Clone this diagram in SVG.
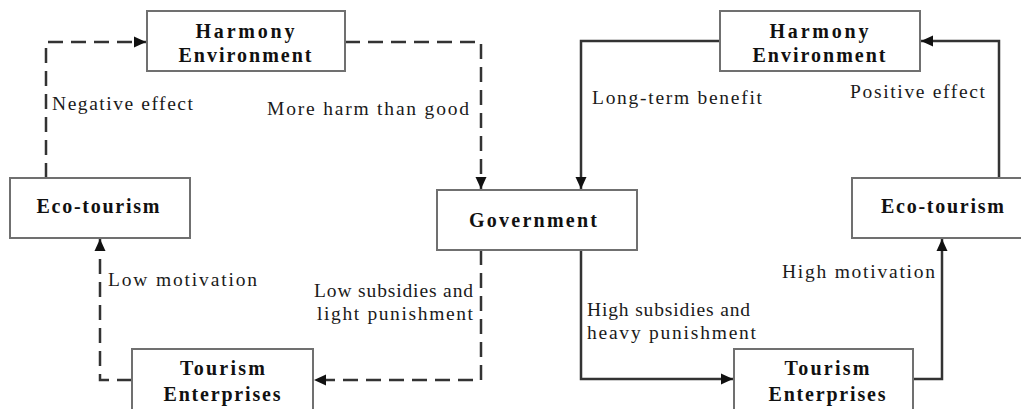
<svg xmlns="http://www.w3.org/2000/svg" width="1021" height="409" viewBox="0 0 1021 409">
<defs>
<marker id="ah" markerUnits="userSpaceOnUse" markerWidth="13" markerHeight="12" refX="12" refY="6" orient="auto">
<path d="M0,0.5 L12,6 L0,11.5 z" fill="#111"/>
</marker>
<style>
.box{fill:#fff;stroke:#707070;stroke-width:2}
.nt{font-family:"Liberation Serif","Times New Roman",serif;font-weight:bold;font-size:20px;fill:#111;text-anchor:middle}
.lb{font-family:"Liberation Serif","Times New Roman",serif;font-size:19.5px;fill:#1a1a1a}
.dash{fill:none;stroke:#333;stroke-width:2.5;stroke-dasharray:15 8;marker-end:url(#ah)}
.solid{fill:none;stroke:#333;stroke-width:2.5;marker-end:url(#ah)}
</style>
</defs>
<rect width="1021" height="409" fill="#fff"/>
<g id="connectors">
<path class="dash" d="M46,178 V42 H146"/>
<path class="dash" d="M345,42 H481 V189"/>
<path class="dash" d="M481,250 V380 H314"/>
<path class="dash" d="M132,380 H100 V239"/>
<path class="solid" d="M720,41 H581 V189"/>
<path class="solid" d="M999,178 V41 H921"/>
<path class="solid" d="M581,250 V379 H733"/>
<path class="solid" d="M913,379 H942 V239"/>
</g>
<g id="labels">
<text class="lb" x="52" y="110" textLength="141" lengthAdjust="spacing">Negative effect</text>
<text class="lb" x="267" y="115" textLength="202" lengthAdjust="spacing">More harm than good</text>
<text class="lb" x="592" y="104" textLength="170" lengthAdjust="spacing">Long-term benefit</text>
<text class="lb" x="850" y="98" textLength="135" lengthAdjust="spacing">Positive effect</text>
<text class="lb" x="108" y="286" textLength="149" lengthAdjust="spacing">Low motivation</text>
<text class="lb" x="314" y="297" textLength="159" lengthAdjust="spacing">Low subsidies and</text>
<text class="lb" x="317" y="320" textLength="156" lengthAdjust="spacing">light punishment</text>
<text class="lb" x="587" y="316" textLength="163" lengthAdjust="spacing">High subsidies and</text>
<text class="lb" x="587" y="339" textLength="169" lengthAdjust="spacing">heavy punishment</text>
<text class="lb" x="782" y="278" textLength="153" lengthAdjust="spacing">High motivation</text>
</g>
<g id="harmony-left">
<rect class="box" x="147" y="11" width="198" height="60"/>
<text class="nt" x="245" y="37.5" textLength="99" lengthAdjust="spacing">Harmony</text>
<text class="nt" x="245" y="62" textLength="133" lengthAdjust="spacing">Environment</text>
</g>
<g id="ecotourism-left">
<rect class="box" x="10" y="178" width="180" height="60"/>
<text class="nt" x="98" y="213" textLength="123" lengthAdjust="spacing">Eco-tourism</text>
</g>
<g id="government">
<rect class="box" x="437" y="190" width="200" height="60"/>
<text class="nt" x="533" y="227" textLength="128" lengthAdjust="spacing">Government</text>
</g>
<g id="tourism-left">
<rect class="box" x="132" y="349" width="181" height="64"/>
<text class="nt" x="222.5" y="375" textLength="85" lengthAdjust="spacing">Tourism</text>
<text class="nt" x="222" y="401" textLength="117" lengthAdjust="spacing">Enterprises</text>
</g>
<g id="harmony-right">
<rect class="box" x="720" y="11" width="200" height="60"/>
<text class="nt" x="819" y="37.5" textLength="99" lengthAdjust="spacing">Harmony</text>
<text class="nt" x="819" y="62" textLength="133" lengthAdjust="spacing">Environment</text>
</g>
<g id="ecotourism-right">
<rect class="box" x="852" y="178" width="185" height="60"/>
<text class="nt" x="942.5" y="213" textLength="123" lengthAdjust="spacing">Eco-tourism</text>
</g>
<g id="tourism-right">
<rect class="box" x="734" y="349" width="179" height="64"/>
<text class="nt" x="827" y="375" textLength="85" lengthAdjust="spacing">Tourism</text>
<text class="nt" x="827" y="401" textLength="117" lengthAdjust="spacing">Enterprises</text>
</g>
</svg>
